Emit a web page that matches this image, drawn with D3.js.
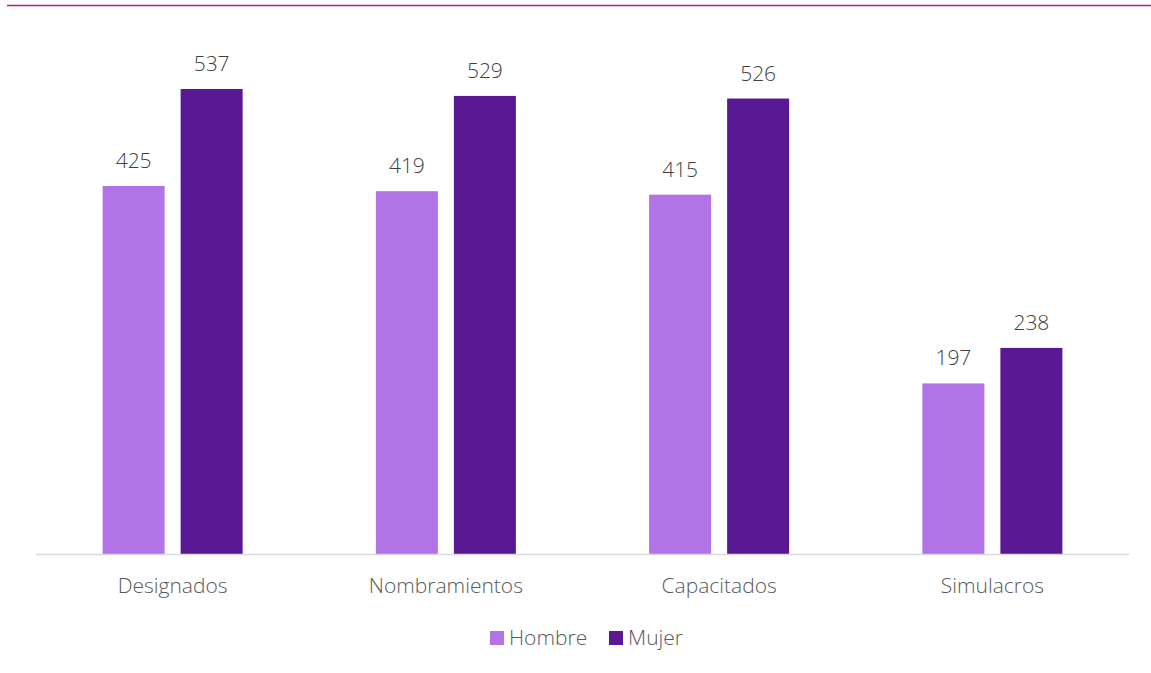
<!DOCTYPE html>
<html><head><meta charset="utf-8">
<script src="https://cdn.jsdelivr.net/npm/d3@7"></script>
<style>body{margin:0;background:#fff}svg{display:block}text{font-family:"Open Sans","Noto Sans",sans-serif;font-weight:300}</style>
</head><body>
<svg id="c" width="1151" height="673"></svg>
<script>
const categories = ["Designados","Nombramientos","Capacitados","Simulacros"];
const seriesNames = ["Hombre","Mujer"];
const hombre = [425,419,415,197];
const mujer = [537,529,526,238];
const colors = ["#b074e6","#591894"];

const svg = d3.select("#c");
const W = 1151, H = 673;
const left = 36, right = 1129, base = 554;
const x = d3.scaleBand().domain(categories).range([left, right]).paddingInner(0).paddingOuter(0);
const y = d3.scaleLinear().domain([0, 537]).range([base, 89]);
const barW = 62, gap = 16;

// top rule
svg.append("line").attr("x1",7).attr("x2",W).attr("y1",5.5).attr("y2",5.5)
  .attr("stroke","#b5198f").attr("stroke-width",1.3);

const data = categories.map((c,i)=>({c, vals:[hombre[i], mujer[i]]}));
const g = svg.append("g");
data.forEach(d=>{
  const cx = x(d.c) + x.bandwidth()/2;
  d.vals.forEach((v,j)=>{
    const bx = j===0 ? cx - gap/2 - barW : cx + gap/2;
    g.append("rect").attr("x",bx).attr("y",y(v)).attr("width",barW).attr("height",base - y(v))
      .attr("fill",colors[j]);
    g.append("text").attr("x",bx+barW/2).attr("y",y(v)-18).attr("text-anchor","middle")
      .attr("font-size",21).attr("fill","#404040").text(v);
  });
});

// axis
const ax = svg.append("g").attr("transform",`translate(0,${base})`).call(d3.axisBottom(x).tickSize(0).tickPadding(0));
ax.select(".domain").attr("stroke","#d9d9d9").attr("stroke-width",1.5).attr("d",`M${left},0.5H${right}`);
ax.selectAll("text").attr("font-size",21).attr("fill","#595959").attr("dy",0).attr("y",39)
  .style("font-family",'"Open Sans","Noto Sans",sans-serif').style("font-weight",300);

// legend
const leg = svg.append("g");
const items = [{n:seriesNames[0],x:490},{n:seriesNames[1],x:609}];
items.forEach((it,i)=>{
  leg.append("rect").attr("x",it.x).attr("y",631).attr("width",14).attr("height",14).attr("fill",colors[i]);
  leg.append("text").attr("x",it.x+19).attr("y",645).attr("font-size",21).attr("fill","#595959").text(it.n);
});
</script>
</body></html>
